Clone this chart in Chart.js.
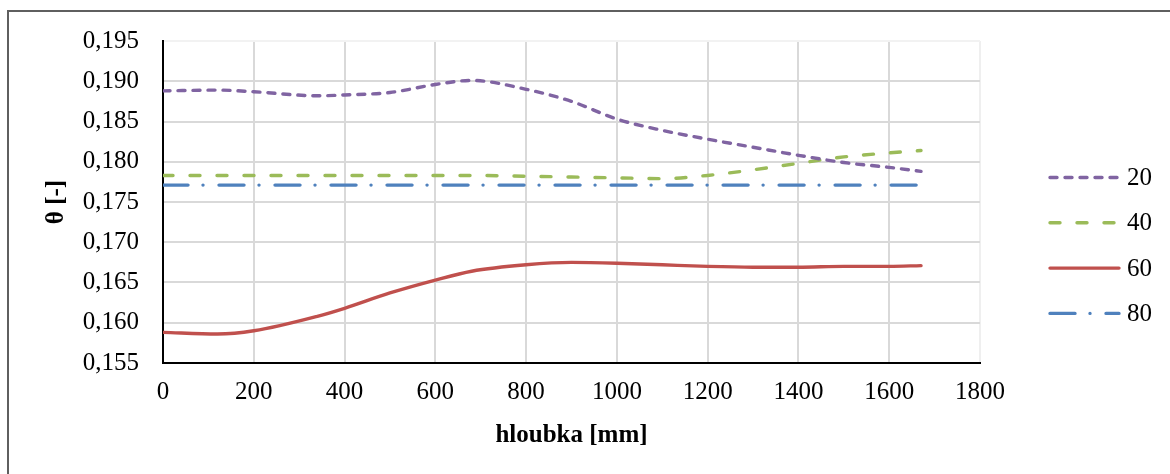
<!DOCTYPE html>
<html>
<head>
<meta charset="utf-8">
<script src="https://cdn.jsdelivr.net/npm/chart.js@4.4.1/dist/chart.umd.min.js"></script>
<style>
  html, body { margin: 0; padding: 0; background: #fff; overflow: hidden; }
  #wrap { position: relative; width: 1170px; height: 474px; }
  #frame { position: absolute; left: 7px; top: 10px; width: 1300px; height: 600px;
           border-top: 2px solid #5f5f5f; border-left: 2px solid #5f5f5f; }
  canvas { position: absolute; left: 0; top: 0; }
</style>
</head>
<body>
<div id="wrap">
  <div id="frame"></div>
  <canvas id="chartTheta" width="1170" height="474"></canvas>
</div>
<script>
// hloubka [mm]
var depth = [0, 120, 200, 340, 400, 500, 600, 680, 800, 900, 1000, 1100, 1200, 1300, 1400, 1500, 1600, 1670];

// theta [-]
var theta20 = [0.1888, 0.1889, 0.1887, 0.1882, 0.1883, 0.1886, 0.1896, 0.1901, 0.1890, 0.1875, 0.1853, 0.1839, 0.1828, 0.1818, 0.1808, 0.1799, 0.1793, 0.1788];
var theta40 = [0.1783, 0.1783, 0.1783, 0.1783, 0.1783, 0.1783, 0.1783, 0.1783, 0.1782, 0.1781, 0.1780, 0.1779, 0.1783, 0.1790, 0.1798, 0.1806, 0.1811, 0.1814];
var theta60 = [0.1588, 0.1586, 0.1590, 0.1608, 0.1618, 0.1637, 0.1653, 0.1664, 0.1672, 0.1675, 0.1674, 0.1672, 0.1670, 0.1669, 0.1669, 0.1670, 0.1670, 0.1671];
var theta80 = [0.1771, 0.1771, 0.1771, 0.1771, 0.1771, 0.1771, 0.1771, 0.1771, 0.1771, 0.1771, 0.1771, 0.1771, 0.1771, 0.1771, 0.1771, 0.1771, 0.1771, 0.1771];

var seriesLabels = ['20', '40', '60', '80'];

var FONT = 'Liberation Serif, Times New Roman, serif';

var toPoints = function (ys) {
    return depth.map(function (x, i) { return {x: x, y: ys[i]}; });
};

var makeSet = function (label, ys, color, dash) {
    return {
        label: label,
        data: toPoints(ys),
        borderColor: color,
        backgroundColor: color,
        borderWidth: 3.4,
        borderDash: dash,
        borderCapStyle: 'round',
        pointRadius: 0,
        fill: false,
        cubicInterpolationMode: 'monotone'
    };
};

// legend drawn to the right like in Excel
var sideLegend = {
    id: 'sideLegend',
    afterDraw: function (chart) {
        var ctx = chart.ctx;
        chart.data.datasets.forEach(function (ds, i) {
            var y = 177.5 + i * 45.3;
            ctx.save();
            ctx.strokeStyle = ds.borderColor;
            ctx.lineWidth = ds.borderWidth;
            ctx.lineCap = ds.borderCapStyle;
            ctx.setLineDash(ds.borderDash);
            ctx.beginPath();
            ctx.moveTo(1050, y);
            ctx.lineTo(1119, y);
            ctx.stroke();
            ctx.setLineDash([]);
            ctx.fillStyle = '#000';
            ctx.font = '25px ' + FONT;
            ctx.textBaseline = 'middle';
            ctx.textAlign = 'left';
            ctx.fillText(ds.label, 1127, y + 1);
            ctx.restore();
        });
    }
};

new Chart(document.getElementById('chartTheta').getContext('2d'), {
    type: 'line',
    data: {
        datasets: [
            makeSet(seriesLabels[0], theta20, '#8064A2', [7, 8]),
            makeSet(seriesLabels[1], theta40, '#9BBB59', [10, 17]),
            makeSet(seriesLabels[2], theta60, '#C0504D', []),
            makeSet(seriesLabels[3], theta80, '#4F81BD', [25, 15, 0.01, 16])
        ]
    },
    options: {
        responsive: false,
        animation: false,
        devicePixelRatio: 1,
        layout: {padding: {left: 0, top: 41, right: 190, bottom: 0}},
        plugins: {
            legend: {display: false},
            tooltip: {enabled: false}
        },
        scales: {
            x: {
                type: 'linear',
                min: 0,
                max: 1800,
                ticks: {
                    stepSize: 200,
                    padding: 14,
                    color: '#000',
                    font: {family: FONT, size: 25},
                    maxRotation: 0,
                    callback: function (v) { return String(v); }
                },
                grid: {
                    drawTicks: false,
                    lineWidth: 2,
                    color: function (c) { return c.tick && c.tick.value === 1800 ? '#efefef' : '#d9d9d9'; }
                },
                border: {color: '#000', width: 2},
                title: {
                    display: true,
                    text: 'hloubka [mm]',
                    color: '#000',
                    font: {family: FONT, size: 25, weight: 'bold'},
                    padding: {top: 23, bottom: 23}
                },
                afterFit: function (s) { s.height = 111; }
            },
            y: {
                min: 0.155,
                max: 0.195,
                ticks: {
                    stepSize: 0.005,
                    padding: 24,
                    color: '#000',
                    font: {family: FONT, size: 25},
                    callback: function (v) { return v.toFixed(3).replace('.', ','); }
                },
                grid: {
                    drawTicks: false,
                    lineWidth: 2,
                    color: function (c) { return c.tick && Math.abs(c.tick.value - 0.195) < 1e-6 ? '#f2f2f2' : '#d9d9d9'; }
                },
                border: {color: '#000', width: 2},
                title: {
                    display: true,
                    text: 'θ [-]',
                    color: '#000',
                    font: {family: FONT, size: 25, weight: 'bold'},
                    padding: {top: 42, bottom: 42}
                },
                afterFit: function (s) { s.width = 163; }
            }
        }
    },
    plugins: [sideLegend]
});
</script>
</body>
</html>
